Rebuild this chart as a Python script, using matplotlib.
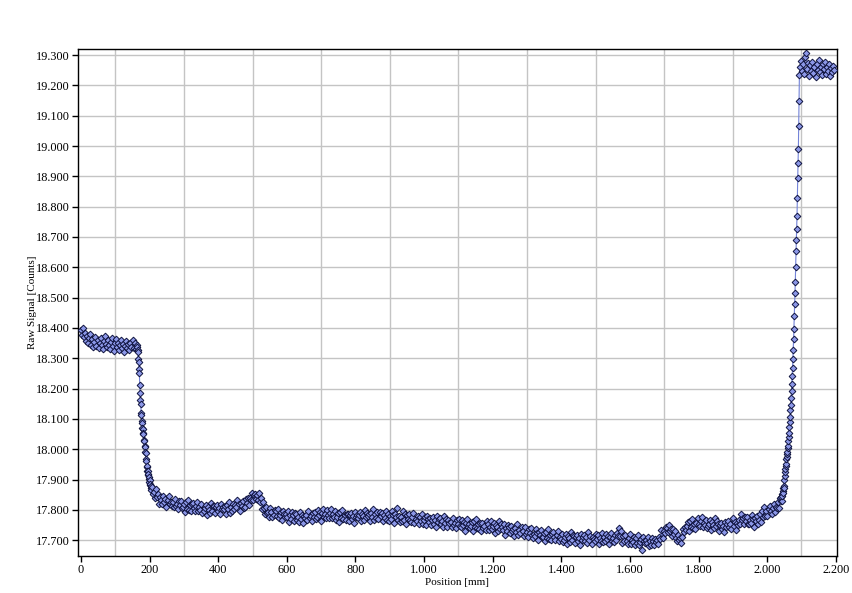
import numpy as np
import matplotlib
matplotlib.use("Agg")
import matplotlib.pyplot as plt
from matplotlib.ticker import FuncFormatter

# --- data (position in mm, raw signal in counts) ---
# each block is sampled on a regular grid: start, step, values

# left plateau, 0..162 mm every 3 mm
left_start, left_step = 0, 3
left_vals = [
    18392, 18378, 18401, 18370, 18385, 18358, 18372, 18349, 18366, 18381,
    18345, 18362, 18338, 18355, 18370, 18342, 18360, 18333, 18351, 18367,
    18344, 18329, 18356, 18372, 18348, 18336, 18361, 18345, 18330, 18353,
    18368, 18340, 18325, 18349, 18362, 18337, 18351, 18328, 18344, 18360,
    18335, 18348, 18322, 18341, 18357, 18333, 18346, 18327, 18352, 18338,
    18361, 18334, 18349, 18330, 18343,
]

# falling edge, 164..205 mm every 1 mm
drop_start, drop_step = 164, 1
drop_vals = [
    18338, 18326, 18321, 18298, 18289, 18265, 18251, 18212, 18186, 18163,
    18149, 18121, 18114, 18092, 18088, 18069, 18068, 18054, 18049, 18032,
    18028, 18010, 18006, 17991, 17988, 17967, 17961, 17943, 17944, 17929,
    17928, 17914, 17918, 17901, 17908, 17893, 17899, 17883, 17886, 17872,
    17879, 17866,
]

# long low section, 207..2040 mm every 3 mm
base_start, base_step = 207, 3
base_vals = [
    17877, 17853, 17860, 17838, 17869, 17841, 17851, 17821, 17843, 17833,
    17820, 17845, 17827, 17837, 17808, 17832, 17845, 17820, 17827, 17813,
    17825, 17808, 17837, 17813, 17820, 17802, 17828, 17815, 17830, 17806,
    17808, 17821, 17793, 17825, 17804, 17833, 17801, 17815, 17798, 17819,
    17824, 17806, 17797, 17814, 17827, 17795, 17809, 17801, 17818, 17791,
    17796, 17805, 17816, 17784, 17810, 17801, 17790, 17822, 17797, 17813,
    17814, 17790, 17809, 17817, 17796, 17807, 17785, 17820, 17802, 17811,
    17804, 17812, 17788, 17815, 17802, 17826, 17791, 17809, 17798, 17818,
    17802, 17816, 17808, 17832, 17819, 17795, 17823, 17812, 17830, 17805,
    17811, 17836, 17824, 17839, 17816, 17838, 17834, 17856, 17834, 17850,
    17852, 17836, 17848, 17834, 17855, 17827, 17840, 17804, 17825, 17806,
    17788, 17810, 17789, 17794, 17777, 17807, 17793, 17775, 17783, 17801,
    17795, 17779, 17804, 17772, 17783, 17792, 17766, 17798, 17787, 17778,
    17786, 17777, 17795, 17760, 17782, 17771, 17792, 17784, 17765, 17789,
    17786, 17766, 17777, 17759, 17794, 17770, 17783, 17756, 17780, 17772,
    17783, 17766, 17796, 17772, 17780, 17762, 17789, 17777, 17792, 17769,
    17775, 17800, 17782, 17793, 17765, 17789, 17802, 17778, 17786, 17772,
    17801, 17783, 17774, 17791, 17804, 17772, 17786, 17778, 17795, 17768,
    17776, 17789, 17761, 17793, 17772, 17801, 17769, 17783, 17766, 17787,
    17787, 17763, 17782, 17790, 17769, 17780, 17758, 17793, 17775, 17784,
    17774, 17783, 17794, 17762, 17788, 17779, 17768, 17800, 17775, 17791,
    17780, 17788, 17764, 17791, 17778, 17802, 17767, 17785, 17774, 17794,
    17771, 17794, 17779, 17791, 17764, 17782, 17774, 17798, 17768, 17785,
    17765, 17779, 17771, 17795, 17782, 17758, 17786, 17775, 17805, 17768,
    17781, 17760, 17777, 17763, 17795, 17766, 17787, 17755, 17783, 17770,
    17786, 17768, 17759, 17776, 17789, 17757, 17771, 17763, 17780, 17753,
    17778, 17762, 17787, 17755, 17766, 17775, 17749, 17781, 17770, 17761,
    17773, 17749, 17768, 17776, 17755, 17766, 17744, 17779, 17761, 17770,
    17772, 17752, 17763, 17745, 17780, 17756, 17769, 17742, 17766, 17758,
    17761, 17744, 17774, 17750, 17758, 17740, 17767, 17755, 17770, 17747,
    17742, 17767, 17749, 17760, 17732, 17756, 17769, 17745, 17753, 17739,
    17746, 17759, 17731, 17763, 17742, 17771, 17739, 17753, 17736, 17757,
    17729, 17756, 17739, 17747, 17733, 17765, 17752, 17735, 17744, 17762,
    17737, 17746, 17757, 17725, 17751, 17742, 17731, 17763, 17738, 17754,
    17744, 17735, 17753, 17718, 17740, 17729, 17750, 17742, 17723, 17747,
    17730, 17738, 17714, 17741, 17728, 17752, 17717, 17735, 17724, 17744,
    17730, 17713, 17743, 17719, 17727, 17709, 17736, 17724, 17739, 17716,
    17707, 17721, 17713, 17737, 17724, 17700, 17728, 17717, 17735, 17710,
    17711, 17724, 17696, 17728, 17707, 17736, 17704, 17718, 17701, 17722,
    17727, 17709, 17700, 17717, 17730, 17698, 17712, 17704, 17721, 17694,
    17701, 17710, 17721, 17689, 17715, 17706, 17695, 17727, 17702, 17718,
    17714, 17690, 17709, 17717, 17696, 17707, 17685, 17720, 17702, 17711,
    17718, 17698, 17709, 17691, 17726, 17702, 17715, 17688, 17712, 17704,
    17696, 17719, 17704, 17716, 17689, 17707, 17699, 17723, 17693, 17710,
    17696, 17721, 17703, 17714, 17686, 17710, 17723, 17699, 17707, 17693,
    17717, 17701, 17723, 17713, 17740, 17714, 17729, 17691, 17714, 17698,
    17716, 17698, 17689, 17706, 17719, 17687, 17701, 17693, 17710, 17683,
    17707, 17691, 17716, 17684, 17695, 17704, 17668, 17710, 17699, 17690,
    17700, 17691, 17709, 17680, 17696, 17685, 17706, 17698, 17684, 17703,
    17693, 17702, 17688, 17711, 17704, 17735, 17707, 17731, 17724, 17743,
    17739, 17728, 17750, 17732, 17737, 17714, 17736, 17719, 17729, 17706,
    17699, 17717, 17701, 17708, 17692, 17712, 17737, 17728, 17743, 17733,
    17746, 17759, 17731, 17763, 17742, 17771, 17739, 17753, 17736, 17757,
    17773, 17755, 17746, 17763, 17776, 17744, 17758, 17750, 17767, 17740,
    17746, 17755, 17766, 17734, 17760, 17751, 17740, 17772, 17747, 17763,
    17755, 17731, 17750, 17758, 17737, 17748, 17726, 17761, 17743, 17752,
    17764, 17744, 17755, 17737, 17772, 17748, 17761, 17734, 17758, 17750,
    17767, 17754, 17788, 17766, 17774, 17754, 17777, 17763, 17777, 17754,
    17752, 17766, 17758, 17782, 17769, 17745, 17773, 17762, 17780, 17755,
    17768, 17785, 17761, 17796, 17778, 17809, 17779, 17795, 17779, 17802,
    17812, 17795, 17787, 17806, 17821, 17792, 17809, 17805, 17827, 17806,
    17838, 17829,
]

# rising edge, 2041..2094 mm every 1 mm
rise_start, rise_step = 2041, 1
rise_vals = [
    17842, 17831, 17851, 17846, 17862, 17855, 17873, 17880, 17872, 17898,
    17911, 17925, 17934, 17946, 17952, 17968, 17973, 17984, 17990, 18003,
    18010, 18026, 18041, 18055, 18072, 18089, 18105, 18128, 18146, 18168,
    18192, 18216, 18242, 18268, 18297, 18327, 18362, 18398, 18438, 18479,
    18515, 18552, 18601, 18655, 18690, 18725, 18768, 18830, 18895, 18945,
    18990, 19065, 19150, 19235,
]

# right plateau, 2096..2195 mm every 3 mm
right_start, right_step = 2096, 3
right_vals = [
    19262, 19281, 19248, 19270, 19239, 19292, 19306, 19255, 19273, 19231,
    19266, 19249, 19278, 19241, 19260, 19229, 19272, 19251, 19283, 19244,
    19262, 19235, 19270, 19253, 19276, 19238, 19261, 19247, 19269, 19232,
    19258, 19243, 19265, 19250,
]

blocks = [
    (left_start, left_step, left_vals),
    (drop_start, drop_step, drop_vals),
    (base_start, base_step, base_vals),
    (rise_start, rise_step, rise_vals),
    (right_start, right_step, right_vals),
]

x_ticks = list(range(0, 2201, 200))
x_grid = list(range(100, 2200, 200))
y_ticks = list(range(17700, 19301, 100))


def dotted_thousands(v, pos=None):
    # 1000 -> "1.000"
    return f"{v:,.0f}".replace(",", ".")


def build_series():
    xs, ys = [], []
    for start, step, vals in blocks:
        xs.append(start + step * np.arange(len(vals)))
        ys.append(np.array(vals, dtype=float))
    return np.concatenate(xs), np.concatenate(ys)


def main():
    pos, raw = build_series()

    fig = plt.figure(figsize=(8.53, 5.93), dpi=100)
    ax = fig.add_axes([0.0914, 0.0624, 0.8896, 0.855])

    ax.plot(pos, raw, color="#7383d8", lw=0.8, marker="D", ms=3.4,
            mfc="#8c98e8", mec="#10143f", mew=0.7, zorder=3)

    ax.set_xlim(-9, 2203)
    ax.set_ylim(17648, 19320)

    ax.set_xticks(x_ticks)
    ax.set_xticks(x_grid, minor=True)
    ax.set_yticks(y_ticks)
    ax.xaxis.set_major_formatter(FuncFormatter(dotted_thousands))
    ax.yaxis.set_major_formatter(FuncFormatter(dotted_thousands))

    # grid: vertical lines only at the odd hundreds, horizontal at every tick
    ax.grid(False)
    ax.xaxis.grid(True, which="minor", color="#c4c4c4", lw=1.0)
    ax.yaxis.grid(True, which="major", color="#c4c4c4", lw=1.0)
    ax.set_axisbelow(True)

    ax.tick_params(axis="both", which="major", direction="out", length=4,
                   width=1, pad=2, labelsize=8.8, colors="black")
    ax.tick_params(axis="x", which="minor", length=0)
    for lab in ax.get_xticklabels() + ax.get_yticklabels():
        lab.set_family("Liberation Serif")

    for sp in ax.spines.values():
        sp.set_color("black")
        sp.set_linewidth(1.0)

    ax.set_xlabel("Position [mm]", family="Liberation Serif", fontsize=8, labelpad=1)
    ax.set_ylabel("Raw Signal [Counts]", family="Liberation Serif", fontsize=8, labelpad=-1)

    fig.savefig("out.png", dpi=100)


if __name__ == "__main__":
    main()
